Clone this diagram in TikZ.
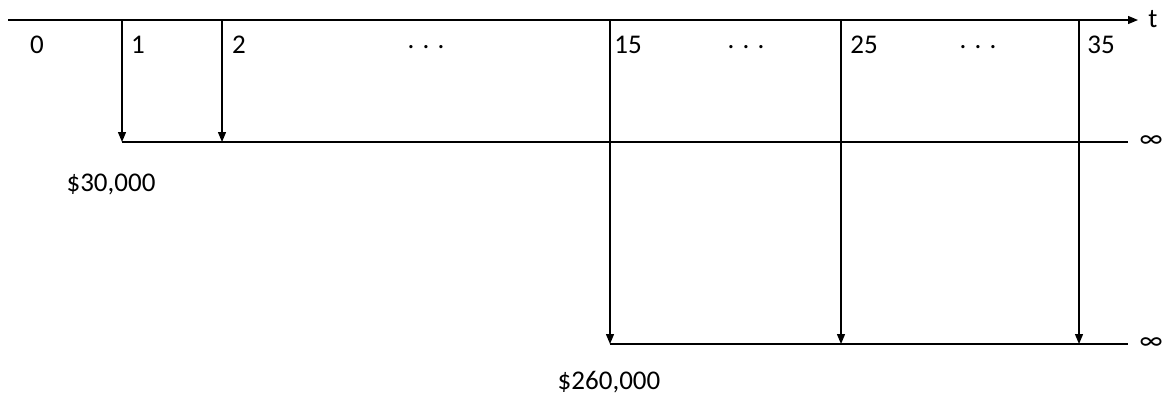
\documentclass[tikz,border=0pt]{standalone}
\usepackage{fontspec}
\setmainfont{Carlito}
\usetikzlibrary{arrows.meta}
\begin{document}
\begin{tikzpicture}[x=1pt,y=-1pt,
  ln/.style={line width=1.3pt,black},
  flow/.style={ln,-{Triangle[width=8pt,length=10pt]}},
  lbl/.style={font=\fontsize{27}{31}\selectfont,inner sep=0pt}]
\useasboundingbox (0,0) rectangle (1174,408);
% axis points
\coordinate (a0) at (8,20);
\coordinate (aend) at (1138,20);
\foreach \n/\x in {t1/122,t2/222,t15/610,t25/841,t35/1079}{
  \coordinate (\n) at (\x,20);
}
\coordinate (u1) at (122,142);
\coordinate (u2) at (222,142);
\coordinate (uend) at (1128,142);
\coordinate (l15) at (610,344);
\coordinate (l25) at (841,344);
\coordinate (l35) at (1079,344);
\coordinate (lend) at (1128,344);
% axis
\draw[flow] (a0) -- (aend);
\node[lbl] (t) at (1153,19) {t};
% period labels
\node[lbl] (n0) at (37,45) {0};
\node[lbl] (n1) at (138,45) {1};
\node[lbl] (n2) at (239,45) {2};
\node[lbl] (d1) at (426,47) {. . .};
\node[lbl] (n15) at (628,45) {15};
\node[lbl] (d2) at (746,47) {. . .};
\node[lbl] (n25) at (864,45) {25};
\node[lbl] (d3) at (978,47) {. . .};
\node[lbl] (n35) at (1101,45) {35};
% first perpetuity
\draw[ln] (u1) -- (uend);
\draw[flow] (t1) -- (u1);
\draw[flow] (t2) -- (u2);
\node[lbl] (inf1) at (1151,142) {∞};
\node[lbl] (c1) at (111,184) {\$30,000};
% second perpetuity
\draw[ln] (l15) -- (lend);
\draw[flow] (t15) -- (l15);
\draw[flow] (t25) -- (l25);
\draw[flow] (t35) -- (l35);
\node[lbl] (inf2) at (1151,344) {∞};
\node[lbl] (c2) at (609,382) {\$260,000};
\end{tikzpicture}
\end{document}
